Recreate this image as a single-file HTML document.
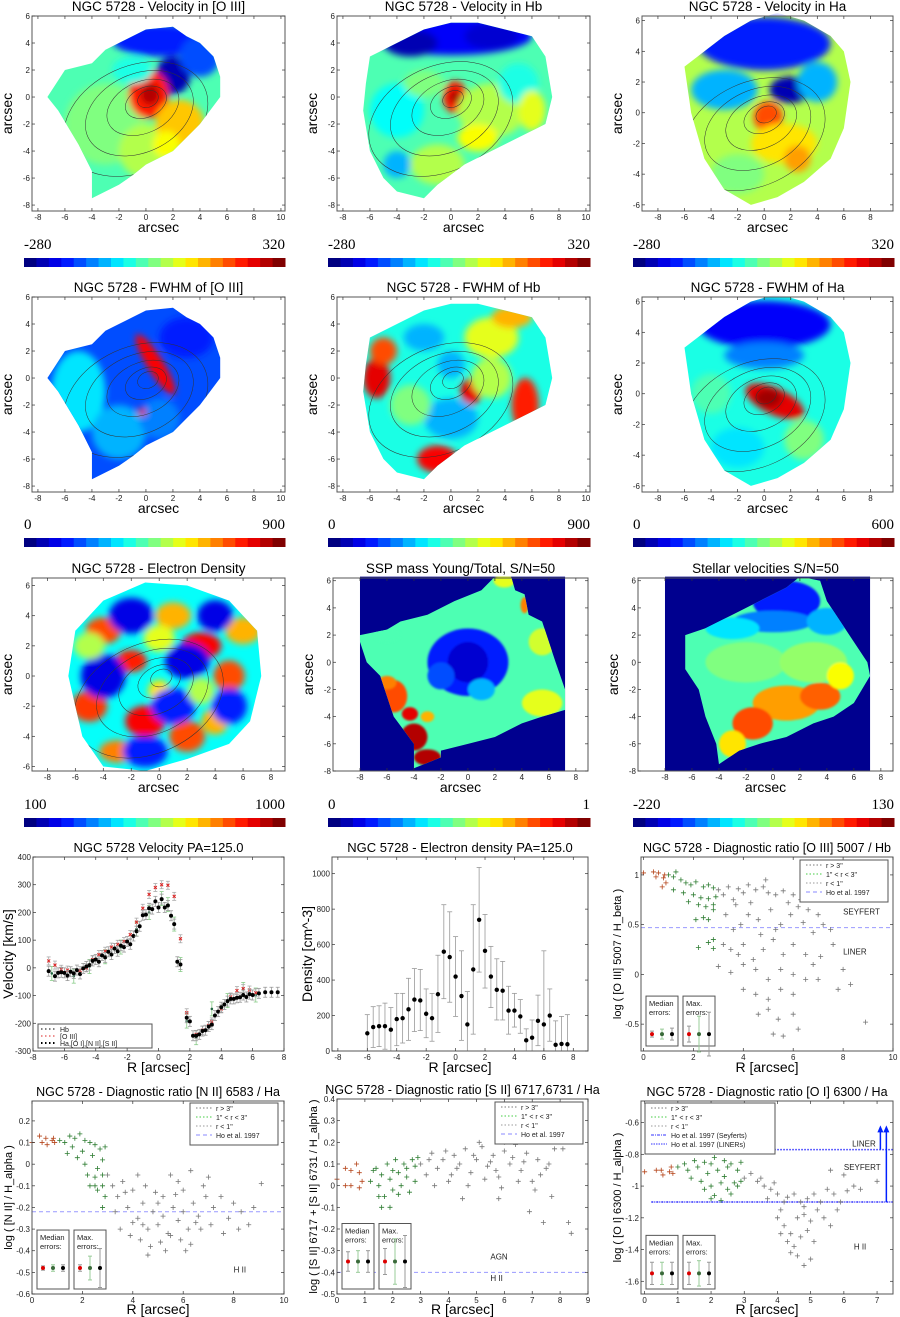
<!DOCTYPE html>
<html><head><meta charset="utf-8">
<style>
html,body{margin:0;padding:0;background:#fff;overflow:hidden;}
svg{display:block;font-family:"Liberation Sans",sans-serif;}
</style></head>
<body>
<svg id="fig" width="900" height="1317" viewBox="0 0 900 1317" xmlns="http://www.w3.org/2000/svg">
<defs>
<filter id="bl" x="-20%" y="-20%" width="140%" height="140%"><feGaussianBlur stdDeviation="3.5"/></filter>
<filter id="bl1" x="-20%" y="-20%" width="140%" height="140%"><feGaussianBlur stdDeviation="1"/></filter>
</defs>
</svg>
<script>
// ---------- chart data ----------
const velBlackR=[-7,-6.6,-6.4,-6.2,-6,-5.8,-5.6,-5.4,-5.2,-5,-4.8,-4.6,-4.4,-4.2,-4,-3.8,-3.6,-3.4,-3.2,-3,-2.8,-2.6,-2.4,-2.2,-2,-1.8,-1.6,-1.4,-1.2,-1,-0.8,-0.6,-0.4,-0.2,0,0.2,0.4,0.6,0.8,1,1.2,1.4,1.8,2,2.2,2.4,2.6,2.8,3,3.2,3.4,3.6,3.8,4,4.2,4.4,4.6,4.8,5,5.2,5.4,5.6,5.8,6,6.4,6.8,7.2,7.6];
const velBlackV=[-12,-30,-18,-16,-18,-28,-14,-20,-8,-22,-2,5,10,25,30,22,45,38,58,48,70,60,80,75,95,85,115,132,150,190,192,215,212,240,218,248,218,225,188,158,22,12,-180,-193,-245,-245,-240,-228,-225,-212,-205,-172,-158,-142,-132,-120,-112,-112,-108,-106,-98,-105,-95,-98,-92,-88,-88,-88];
const velRedR=[-7,-6.6,-6.2,-5.8,-5,-4.6,-4.2,-3.8,-3.4,-3,-2.6,-2.2,-1.8,-1.4,-1,-0.6,-0.2,0.2,0.6,1,1.4,1.8,2.4,2.8,3.2,3.4,4,4.6,5,5.4,5.8,6.2];
const velRedV=[25,10,-5,-8,-10,0,30,48,60,75,85,95,120,165,215,265,290,300,298,258,105,-162,-240,-225,-208,-195,-148,-105,-82,-75,-80,-90];
const velHbR=[-6.8,-5.4,-4.4,-3.4,-2.4,-1.4,-0.6,0.2,0.6,1,1.4,1.8,2.4,3.4,4.4,5.4,6.2];
const velHbV=[-20,-30,5,40,75,140,200,250,228,158,12,-192,-252,-148,-118,-78,-98];
const denR=[-6,-5.6,-5.2,-4.8,-4.4,-4,-3.6,-3.2,-2.8,-2.4,-2,-1.6,-1.2,-0.8,-0.4,0,0.4,0.8,1.2,1.6,2,2.4,2.8,3.2,3.6,4,4.4,4.8,5.2,5.6,6,6.4,6.8,7.2,7.6];
const denV=[100,135,140,140,120,180,185,235,290,285,210,185,320,560,530,420,310,150,460,740,565,420,345,340,228,228,195,60,75,170,150,200,35,40,38];
const denHi=[205,250,255,270,245,325,325,410,465,460,350,325,540,825,785,645,565,335,825,1035,770,590,520,505,365,325,290,125,175,315,565,350,170,195,205];
const denLo=[0,20,25,10,0,30,45,60,110,115,75,55,105,295,275,195,60,0,95,445,355,245,175,175,95,135,100,0,0,30,0,55,0,0,0];

const o3Gray=[[3,0.85],[3.2,0.8],[3.4,0.88],[3.6,0.75],[3.8,0.86],[4,0.82],[4.2,0.9],[4.5,0.85],[4.8,0.88],[5,0.82],[5.3,0.8],[5.6,0.84],[6,0.8],[6.3,0.75],[6.6,0.65],[7,0.6],[3.3,0.6],[3.6,0.45],[3.9,0.5],[4.2,0.6],[4.6,0.55],[5.1,0.65],[5.5,0.5],[5.9,0.6],[6.4,0.52],[6.8,0.42],[7.2,0.5],[7.5,0.45],[3.2,0.3],[3.5,0.25],[4,0.3],[4.4,0.15],[4.8,0.25],[5.2,0.35],[5.6,0.2],[6,0.3],[6.5,0.2],[7.1,0.18],[7.6,0.3],[3,0.08],[3.5,0.02],[4,0.1],[4.5,0.05],[5,-0.05],[5.5,0.05],[6,0],[6.5,-0.05],[7,-0.05],[8,0.05],[8.3,-0.1],[4,-0.15],[4.5,-0.2],[5,-0.25],[5.5,-0.15],[6,-0.2],[4.6,-0.4],[5,-0.35],[5.4,-0.45],[6,-0.4],[5.2,-0.6],[5.6,-0.62],[6.2,-0.55],[8.9,-0.48],[7.8,-0.15],[4.9,0.95],[6.6,0.9],[3.7,0.7],[4.3,0.72],[5.8,0.72],[6.2,0.68],[4.7,0.4],[5.3,0.45],[3.8,0.2],[6.8,0.1]];
const o3Green=[[1.2,0.98],[1.5,0.95],[1.7,0.92],[1.9,0.9],[2.1,0.93],[2.4,0.88],[2.6,0.9],[2.8,0.87],[1.2,0.85],[1.6,0.82],[2,0.8],[2.3,0.77],[2.6,0.76],[2.9,0.78],[1.8,0.73],[2.2,0.7],[2.5,0.68],[2.8,0.65],[2.1,0.55],[2.4,0.57],[2.6,0.55],[2.8,0.7],[2.6,0.32],[2.8,0.35],[2.2,0.27],[2.8,0.26],[1.3,1.03],[1.0,1.0]];
const o3Red=[[0,1.02],[0.4,1.03],[0.5,0.98],[0.6,1.02],[0.8,0.97],[0.9,0.92],[0.75,0.88],[0.85,1.0]];

const n2Gray=[[3,-0.05],[3.2,-0.1],[3.4,-0.15],[3.6,-0.08],[3.8,-0.2],[4,-0.12],[4.2,-0.25],[4.4,-0.18],[4.6,-0.3],[4.8,-0.22],[5,-0.28],[5.2,-0.15],[5.4,-0.32],[5.6,-0.2],[5.8,-0.26],[6,-0.12],[6.2,-0.3],[6.4,-0.18],[6.6,-0.24],[6.8,-0.1],[7,-0.06],[7.2,-0.2],[7.5,-0.15],[7.8,-0.25],[8,-0.18],[8.3,-0.22],[8.6,-0.28],[9.1,-0.09],[8.8,-0.2],[3.5,-0.3],[3.9,-0.33],[4.3,-0.35],[4.7,-0.38],[5.1,-0.36],[5.5,-0.33],[5.9,-0.35],[6.3,-0.37],[6.7,-0.3],[7.1,-0.28],[4.6,-0.42],[5.3,-0.4],[6.1,-0.4],[4.2,-0.05],[5.5,-0.05],[6.3,-0.03],[5.8,-0.08],[4.5,-0.1],[3.3,-0.22],[7.6,-0.32],[8.2,-0.3],[6.9,-0.15],[5,-0.18],[4,-0.27],[4.9,-0.13],[5.7,-0.14],[6.5,-0.27],[3.7,-0.13],[4.4,-0.28],[5.2,-0.24],[6,-0.22]];
const n2Green=[[1.1,0.11],[1.3,0.1],[1.5,0.13],[1.7,0.12],[1.9,0.14],[2.1,0.11],[2.3,0.1],[2.5,0.09],[2.7,0.07],[2.9,0.08],[1.4,0.05],[1.8,0.03],[2.1,0],[2.4,0.04],[2.6,-0.02],[2.8,0.02],[2.2,-0.05],[2.5,-0.06],[2.8,-0.05],[2.3,-0.1],[2.6,-0.12],[2.8,-0.1],[2.9,-0.15],[2.8,-0.2],[2.5,-0.1],[1.6,0.08],[2,0.06]];
const n2Red=[[0.3,0.13],[0.4,0.1],[0.55,0.12],[0.6,0.09],[0.8,0.11],[0.9,0.1],[0.85,0.12],[0,0.1]];

const s2Gray=[[3,0.1],[3.2,0.05],[3.4,0.15],[3.6,0.08],[3.8,0.12],[4,0.02],[4.2,0.14],[4.4,0.1],[4.6,0.17],[4.8,0.06],[5,0.12],[5.2,0.18],[5.4,0.09],[5.6,0.14],[5.8,0.04],[6,0.16],[6.2,0.1],[6.4,0.19],[6.6,0.07],[6.8,0.15],[7,0.02],[7.2,0.12],[7.5,0.08],[7.8,0.17],[3.5,0],[4.1,0.05],[4.7,0],[5.3,0.03],[5.9,-0.01],[6.5,0.02],[7.1,-0.02],[7.7,-0.05],[6.9,-0.12],[7.4,-0.17],[8.3,-0.17],[8.4,-0.22],[4.5,-0.06],[5.8,-0.06],[6,0.2],[6.9,0.21],[3.9,0.16],[5.1,0.2],[4.3,0.08],[5.5,0.11],[6.3,0.13],[7.3,0.05],[3.3,0.12],[4.9,0.14],[5.7,0.07],[6.7,0.11],[7.6,0.1],[8.1,0.17]];
const s2Green=[[1.2,0.02],[1.4,0.08],[1.5,0],[1.6,0.05],[1.8,0.1],[1.9,0.03],[2,-0.02],[2.1,0.12],[2.2,0.06],[2.3,0],[2.4,0.1],[2.5,0.04],[2.6,-0.03],[2.7,0.12],[2.8,0.02],[2.9,0.13],[1.7,-0.05],[2.2,-0.04],[1.6,-0.1],[1.9,-0.1],[2.5,0.08],[2.8,0.09],[1.3,0.07],[2,0.07],[1.5,-0.05]];
const s2Red=[[0.3,0.08],[0.5,0.07],[0.7,0.1],[0.8,0.06],[0.9,0.02],[0.3,0],[0.5,0],[0.8,-0.01],[0,0.03]];

const o1Gray=[[3,-0.95],[3.2,-0.92],[3.4,-0.97],[3.6,-1],[3.8,-1.02],[3.9,-0.98],[4,-1.05],[4.1,-1.15],[4.2,-1.1],[4.3,-1.07],[4.5,-1.05],[4.7,-1.1],[4.9,-1.08],[5.1,-1.05],[5.3,-1.1],[5.5,-1.02],[5.7,-1.05],[5.9,-1.1],[6.1,-1.03],[6.3,-1],[6.5,-1.02],[7,-0.97],[5.6,-0.9],[6,-0.93],[4,-1.2],[4.2,-1.25],[4.4,-1.3],[4.6,-1.2],[4.8,-1.18],[5,-1.22],[5.2,-1.15],[5.4,-1.2],[5.6,-1.25],[5.8,-1.15],[4.1,-1.3],[4.3,-1.35],[4.5,-1.38],[4.7,-1.32],[4.9,-1.28],[4.4,-1.42],[4.6,-1.44],[4.8,-1.5],[5,-1.46],[5.1,-1.35],[3.5,-0.95],[3.7,-1.08],[4.8,-1.13]];
const o1Green=[[1,-0.88],[1.2,-0.86],[1.3,-0.9],[1.5,-0.84],[1.6,-0.88],[1.8,-0.85],[1.9,-0.92],[2,-0.86],[2.1,-0.82],[2.2,-0.9],[2.4,-0.84],[2.5,-0.88],[2.6,-0.86],[2.8,-0.9],[2.9,-0.85],[1.4,-0.95],[1.7,-0.97],[2,-1],[2.3,-0.98],[2.5,-1.02],[2.7,-0.98],[1.8,-1.02],[2.1,-1.06],[2.3,-1.09],[2.6,-1.05],[2.8,-1],[2,-1.08],[2.4,-0.94],[2.9,-0.97]];
const o1Red=[[0,-0.91],[0.35,-0.9],[0.5,-0.9],[0.55,-0.93],[0.75,-0.91],[0.8,-0.88],[0.85,-0.92]];

// ---------- helpers ----------
const NS='http://www.w3.org/2000/svg';
const svg=document.getElementById('fig');
function el(tag,attrs,parent,txt){const e=document.createElementNS(NS,tag);for(const k in attrs)e.setAttribute(k,attrs[k]);if(txt!==undefined)e.textContent=txt;(parent||svg).appendChild(e);return e;}
function jet(t){const c=v=>Math.round(255*Math.max(0,Math.min(1,v)));return `rgb(${c(1.5-Math.abs(4*t-3))},${c(1.5-Math.abs(4*t-2))},${c(1.5-Math.abs(4*t-1))})`;}
function axes(p){const [x0,y0,x1,y1,xa,xb,ya,yb]=p;return {X:v=>x0+(v-xa)/(xb-xa)*(x1-x0),Y:v=>y1-(v-ya)/(yb-ya)*(y1-y0),p};}
function frame(a,xt,yt,g,fs){const [x0,y0,x1,y1]=a.p;fs=fs||8;
 el('rect',{x:x0,y:y0,width:x1-x0,height:y1-y0,fill:'none',stroke:'#555','stroke-width':1},g);
 xt.forEach(v=>{const x=a.X(v);el('line',{x1:x,y1:y1,x2:x,y2:y1-3,stroke:'#333','stroke-width':0.7},g);el('line',{x1:x,y1:y0,x2:x,y2:y0+3,stroke:'#333','stroke-width':0.7},g);el('text',{x:x,y:y1+fs+1,'font-size':fs,'text-anchor':'middle',fill:'#222'},g,String(v));});
 yt.forEach(v=>{const y=a.Y(v);el('line',{x1:x0,y1:y,x2:x0+3,y2:y,stroke:'#333','stroke-width':0.7},g);el('line',{x1:x1,y1:y,x2:x1-3,y2:y,stroke:'#333','stroke-width':0.7},g);el('text',{x:x0-2,y:y+3,'font-size':fs,'text-anchor':'end',fill:'#222'},g,String(v));});}
function labels(g,a,title,xl,yl,tfs,xoff){const [x0,y0,x1,y1]=a.p;
 const t=el('text',{x:(x0+x1)/2,y:y0-5,'font-size':tfs||13.5,'text-anchor':'middle',fill:'#000'},g,title);
 const xe=el('text',{x:(x0+x1)/2,y:y1+(xoff||21),'font-size':14,'text-anchor':'middle',fill:'#000'},g,xl);
 const ye=el('text',{x:0,y:0,'font-size':yl.length>20?11:14,'text-anchor':'middle',fill:'#000',transform:`translate(${x0-20},${(y0+y1)/2}) rotate(-90)`},g,yl);}
function range(a,b,s){const r=[];for(let v=a;v<=b+1e-9;v+=s)r.push(Math.round(v*10)/10);return r;}
let cid=0;
function map(name,p,title,xt,yt,poly,bg,blobs,opts){opts=opts||{};
 const g=el('g',{});
 const a=axes(p);const id='c'+(cid++);
 const sx=(p[2]-p[0])/(p[5]-p[4]);const k=opts.scale||1;
 const cp=el('clipPath',{id:id},svg.querySelector('defs'));
 el('polygon',{points:poly.map(q=>a.X(q[0])+','+a.Y(q[1])).join(' ')},cp);
 if(opts.navy){el('rect',{x:a.X(-8),y:a.Y(6.3),width:a.X(7.2)-a.X(-8),height:a.Y(-8)-a.Y(6.3),fill:'#00008f'},g);}
 const inner=el('g',{'clip-path':`url(#${id})`},g);
 el('rect',{x:p[0],y:p[1],width:p[2]-p[0],height:p[3]-p[1],fill:jet(bg)},inner);
 const bg2=el('g',{filter:opts.navy?'url(#bl1)':'url(#bl)'},inner);
 blobs.forEach(b=>{const cx=a.X(b[0]),cy=a.Y(b[1]);el('ellipse',{cx:cx,cy:cy,rx:b[2]*sx*k,ry:b[3]*sx*k,fill:jet(b[4]),transform:`rotate(${b[5]||0} ${cx} ${cy})`},bg2);});
 if(opts.contour){const cx=a.X(0.3),cy=a.Y(0.1);
  [[0.8,0.6],[1.6,1.1],[2.8,1.9],[4.2,2.9],[5.6,3.9]].forEach(r=>el('ellipse',{cx:cx-r[0]*sx*0.3,cy:cy+r[0]*sx*0.2,rx:r[0]*sx,ry:r[1]*sx,fill:'none',stroke:'#333','stroke-width':0.5,transform:`rotate(${opts.contour} ${cx} ${cy})`},inner));}
 frame(a,xt,yt,g);labels(g,a,title,'arcsec','arcsec',13.5,21);return a;}
function colorbar(name,x0,x1,y,lo,hi){const g=el('g',{});
 const n=21,w=(x1-x0)/n;for(let i=0;i<n;i++)el('rect',{x:x0+i*w,y:y,width:w+0.5,height:9,fill:jet(i/(n-1))},g);
 el('text',{x:x0,y:y-9,'font-size':15,'font-family':'Liberation Serif, serif',fill:'#000'},g,lo);
 el('text',{x:x1,y:y-9,'font-size':15,'font-family':'Liberation Serif, serif','text-anchor':'end',fill:'#000'},g,hi);}
function plus(g,x,y,c){el('path',{d:`M${x-2.5},${y}h5M${x},${y-2.5}v5`,stroke:c,'stroke-width':0.8},g);}
function scatter(a,g,pts,c){pts.forEach(q=>plus(g,a.X(q[0]),a.Y(q[1]),c));}
function legend(g,x,y,w,items){const h=items.length*9+6;el('rect',{x:x,y:y,width:w,height:h,fill:'#fff',stroke:'#555','stroke-width':1},g);
 items.forEach((it,i)=>{const yy=y+8+i*9;el('line',{x1:x+6,y1:yy-3,x2:x+22,y2:yy-3,stroke:it[1],'stroke-width':1,'stroke-dasharray':it[2]||'1.5,2'},g);el('text',{x:x+26,y:yy,'font-size':7,fill:'#222'},g,it[0]);});}
function errBoxes(g,a,x,ybot,ybar,med,mx){
 [[x,'Median','errors:',med],[x+37,'Max.','errors:',mx]].forEach(b=>{const bx=b[0],top=a.Y(ybar)-38;
  el('rect',{x:bx,y:top,width:32,height:ybot-top,fill:'#fff',stroke:'#555','stroke-width':1},g);
  el('text',{x:bx+3,y:top+10,'font-size':7.5,fill:'#222'},g,b[1]);el('text',{x:bx+3,y:top+19,'font-size':7.5,fill:'#222'},g,b[2]);
  const cols=['#d00','#3a6a3a','#000'],bars=['#999','#9c9','#999'];
  b[3].forEach((e,i)=>{const cx=bx+6+i*10;el('line',{x1:cx,y1:a.Y(ybar-e),x2:cx,y2:a.Y(ybar+e),stroke:bars[i],'stroke-width':1},g);
   el('line',{x1:cx-2,y1:a.Y(ybar-e),x2:cx+2,y2:a.Y(ybar-e),stroke:bars[i]},g);el('line',{x1:cx-2,y1:a.Y(ybar+e),x2:cx+2,y2:a.Y(ybar+e),stroke:bars[i]},g);
   el('circle',{cx:cx,cy:a.Y(ybar),r:2,fill:cols[i]},g);});});}

// ---------- maps ----------
const poly1=[[-7.3,0],[-6,2],[-4,2.5],[-3,3.5],[-2,4],[-1,4.5],[0,5],[2,5.2],[3,4.5],[4,4],[5,3],[5.5,1.5],[5.5,0],[4,-2],[2,-4],[0,-5],[-1,-5.8],[-2,-6.5],[-4,-7.5],[-4,-5.5],[-5,-3.5],[-6.5,-1]];
const poly2=[[-6,3],[-4,4],[-2,5],[0,5.5],[2,5.5],[4,5],[6,4.5],[7,3],[7.5,0],[7,-2],[5,-3],[3,-4],[1,-5],[-1,-6.5],[-2,-7.5],[-4,-7],[-5,-6],[-6,-4],[-6.5,-1],[-6.3,1]];
const poly3=[[-6,3],[-3,5],[-1,6],[1,6.5],[3,6],[5,5],[6,4],[6.5,2],[6,-1],[5,-3],[3,-4.5],[1,-5.5],[-1,-6],[-3,-5],[-4.5,-3],[-5.5,0]];
const poly4=[[-6,3],[-4,5],[-1,6.2],[2,6],[5,5],[7,3],[7.3,0],[6.5,-3],[5,-4.5],[2,-5.5],[-1,-6.3],[-4,-6],[-5.5,-4],[-6.5,0]];
const poly5=[[-8,2],[-6,2.4],[-5,3],[-3,3.5],[-1,4.5],[1,5.3],[2,6.3],[3.2,6.3],[3.5,5.3],[4.2,5],[4.5,3.5],[5.5,3],[6,1.5],[6.5,0],[7.2,-2],[7.2,-3.5],[5.5,-4],[4,-4.5],[2,-5.5],[0,-6],[-2,-6.5],[-2,-7],[-4,-7.8],[-4,-6],[-5.5,-4],[-6.5,-1],[-7.5,0],[-8,1.5]];
const poly6=[[-6.5,2],[-5,2.5],[-3,3.5],[-1,4.5],[1,5.5],[2,6.3],[3.5,6],[4,4.5],[5,3],[6,1.5],[7,0],[7.2,-1],[6,-3],[4.5,-4],[3,-4.5],[1,-5.5],[-1,-6],[-2.5,-6.5],[-4,-7.5],[-4.2,-6],[-5,-4],[-5.5,-2],[-6.5,-0.5]];
const xtA=range(-8,10,2),ytA=range(-8,6,2),xtB=range(-8,8,2),ytB=range(-6,6,2);
const rA=[-8.44,10.3,-8.44,6],rB=[-9.2,9.7,-6.4,6.3],rC=[-9.1,9.0,-6.3,6.5],rD=[-10,8.9,-8,6.2];

map('map-velocity-oiii',[32,16,285,211,...rA],'NGC 5728 - Velocity in [O III]',xtA,ytA,poly1,0.45,
 [[-3,-2,3,3,0.5],[0,-4,2,2,0.55],[1,4.2,3.5,1.2,0.15],[2,1.6,1.3,1.4,0.05],[4,3,1.5,1.5,0.2],[0.2,0.2,1.5,1.8,0.85],[0.3,0.2,0.7,0.8,0.95],[2.5,-2,1.8,1.8,0.68],[1.5,-3.5,1,1,0.62],[-1,2,1.5,1,0.4]],{contour:-25});
map('map-velocity-hb',[337,16,590,211,...rA],'NGC 5728 - Velocity in Hb',xtA,ytA,poly2,0.45,
 [[0,4.5,6,1.4,0.12],[-3,4,2,1,0.05],[3,4.5,2,1,0.08],[0.3,0,0.9,1.2,0.85],[0.3,0,0.4,0.5,0.97],[-4,-1,2,2,0.38],[3,-1,2.5,2,0.55],[5,1,1.5,1.5,0.4],[-1,-5,2,1.5,0.55],[2,-3,1.5,1,0.62],[-4,-5,1,1,0.3],[6,-1,1,1.5,0.6],[-2,1,1.5,1,0.5]],{contour:-25});
map('map-velocity-ha',[642,16,893,211,...rB],'NGC 5728 - Velocity in Ha',xtB,ytB,poly3,0.55,
 [[0,4.5,5,2,0.15],[2,1.5,1.6,1,0.05],[-3,1.5,2.5,1.5,0.3],[4,2,1.5,1.5,0.3],[0.3,-0.3,1.1,1.2,0.8],[1.5,-2,2.5,1.5,0.65],[-2,-4,2,1.5,0.5],[2.5,-3,1,1,0.72]],{contour:-25});
colorbar('colorbar-velocity-oiii',24,285,258,'-280','320');
colorbar('colorbar-velocity-hb',328,590,258,'-280','320');
colorbar('colorbar-velocity-ha',633,894,258,'-280','320');

map('map-fwhm-oiii',[32,297,285,492,...rA],'NGC 5728 - FWHM of [O III]',xtA,ytA,poly1,0.2,
 [[-5,-1,2,3,0.35],[-2,-4,2,2,0.3],[0.7,1,2.6,0.6,0.88,58],[3,3,2,1.5,0.15],[1,-3,1.5,1.5,0.25],[-0.3,-2.5,0.3,0.3,0.9]],{contour:-25});
map('map-fwhm-hb',[337,297,590,492,...rA],'NGC 5728 - FWHM of Hb',xtA,ytA,poly2,0.4,
 [[-5.5,0,1,1.5,0.9],[-5,2,1,1,0.8],[-1,-6,1.5,1,0.88],[5.5,-2,1,2,0.85],[1.5,-1,0.8,1,0.9],[3,3,2,1.5,0.6],[-2,3,1.5,1,0.3],[0,-3,2,1.5,0.3],[3,0,1.5,1.5,0.55],[-3,-2,1.5,1.5,0.5],[0,1,1,1,0.3],[4.5,4.5,1.5,0.8,0.7]],{contour:-25});
map('map-fwhm-ha',[642,297,893,492,...rB],'NGC 5728 - FWHM of Ha',xtB,ytB,poly3,0.4,
 [[0,4.5,5,1.8,0.12],[0,2.5,3,1,0.25],[0.8,-0.5,2.4,1,0.9,25],[0.3,-0.3,1,0.7,0.97],[-2,-3.5,2,1.5,0.35],[3,-3,1.5,1.5,0.5],[-4,0,1.5,1.5,0.45]],{contour:-25});
colorbar('colorbar-fwhm-oiii',24,285,538,'0','900');
colorbar('colorbar-fwhm-hb',328,590,538,'0','900');
colorbar('colorbar-fwhm-ha',633,894,538,'0','600');

map('map-electron-density',[32,578,285,771,...rC],'NGC 5728 -  Electron Density',xtB,ytB,poly4,0.38,
 [[-4,3,0.8,0.6,0.8],[-2,1,0.7,0.5,0.85],[1,4,0.8,0.6,0.7],[3,2,0.9,0.6,0.88],[5,0,0.7,0.7,0.8],[-5,-2,0.8,0.7,0.82],[-1,-3,0.9,0.7,0.88],[2,-4,0.8,0.7,0.8],[4,-3,0.6,0.6,0.7],[0,-1,0.5,0.5,0.65],[-3,-5,0.8,0.5,0.75],[6,3,0.8,0.6,0.7],[-2,4,1,0.8,0.1],[2,1,1,0.8,0.1],[-4,0,1,1,0.1],[1,-2,1,0.8,0.15],[4,4,0.8,0.7,0.1],[-1,-5,1,0.7,0.15],[5,-2,0.8,0.8,0.15],[-5,2,0.7,0.6,0.55],[3,-1,0.6,0.6,0.55],[0,2.5,0.7,0.6,0.6]],{contour:-25,scale:1.6});
map('map-ssp-mass',[333,578,588,771,...rD],'SSP mass Young/Total, S/N=50',xtB,ytA,poly5,0.45,
 [[0,0,3,2.5,0.15],[0,0,1.5,1.5,0.08],[-2,-1,1,1,0.2],[1,-2,1,0.8,0.3],[-5.5,-2.5,1,1.2,0.8],[-4.3,-3.8,0.6,0.5,0.9],[-4,-5.5,1,1,0.95],[-3,-7,1,0.6,0.95],[-6,-1.5,0.7,0.5,0.75],[-3,-4,0.5,0.4,0.7],[5.5,-3,1.5,1,0.6],[2.7,6,0.8,0.5,0.6],[4.2,4.2,0.3,0.6,0.75],[5.5,1.5,1,1,0.58],[-6,2,1,0.5,0.45]],{navy:1});
map('map-stellar-velocity',[638,578,893,771,...rD],'Stellar velocities S/N=50',xtB,ytA,poly6,0.45,
 [[1,4.5,2.5,1.5,0.15],[0,3,3,0.8,0.25],[-3,2.5,2,0.8,0.35],[4,3,1.5,1,0.3],[-2,0,3,1.5,0.5],[3,0,2.5,1.5,0.52],[1,-3,2.5,1.3,0.72],[3.5,-2.5,1.5,1,0.78],[-1.5,-4.5,1.5,1.2,0.8],[-3,-6,1,1,0.65],[5,-1,1,1,0.62]],{navy:1});
colorbar('colorbar-electron-density',24,285,818,'100','1000');
colorbar('colorbar-ssp-mass',328,590,818,'0','1');
colorbar('colorbar-stellar-velocity',633,894,818,'-220','130');

// ---------- velocity profile ----------
(function(){const g=el('g',{});
 const a=axes([33,857,284,1051,-8,8,-300,400]);
 const eb=(x,y,e,c)=>{el('line',{x1:x,y1:y-e,x2:x,y2:y+e,stroke:c,'stroke-width':0.8},g);el('line',{x1:x-2,y1:y-e,x2:x+2,y2:y-e,stroke:c,'stroke-width':0.8},g);el('line',{x1:x-2,y1:y+e,x2:x+2,y2:y+e,stroke:c,'stroke-width':0.8},g);};
 velHbR.forEach((r,i)=>{const x=a.X(r),y=a.Y(velHbV[i]);eb(x,y,7,'#8c8');el('circle',{cx:x,cy:y,r:1.3,fill:'#264'},g);});
 velRedR.forEach((r,i)=>{const x=a.X(r),y=a.Y(velRedV[i]);eb(x,y,4,'#aaa');el('path',{d:`M${x-1.5},${y-1.5}l3,3M${x+1.5},${y-1.5}l-3,3`,stroke:'#d22','stroke-width':1},g);});
 velBlackR.forEach((r,i)=>{const x=a.X(r),y=a.Y(velBlackV[i]);eb(x,y,5,'#999');el('circle',{cx:x,cy:y,r:2,fill:'#000'},g);});
 frame(a,range(-8,8,2),range(-300,400,100),g);labels(g,a,'NGC 5728  Velocity PA=125.0','R [arcsec]','Velocity [km/s]',13,21);
 const lg=el('g',{},g);
 el('rect',{x:38,y:1024,width:114,height:24,fill:'#fff',stroke:'#555'},lg);
 [['Hb','#000'],['[O III]','#d22'],['Ha,[O I],[N II],[S II]','#000']].forEach((t,i)=>{const y=1031+i*7;el('line',{x1:41,y1:y-2,x2:57,y2:y-2,stroke:t[1],'stroke-width':i==2?2:1,'stroke-dasharray':'1.5,2.5'},lg);el('text',{x:60,y:y+1,'font-size':7,fill:'#222'},lg,t[0]);});
})();

// ---------- density profile ----------
(function(){const g=el('g',{});
 const a=axes([332,857,588,1051,-8.4,9,0,1094]);
 denR.forEach((r,i)=>{const x=a.X(r);el('line',{x1:x,y1:a.Y(denLo[i]),x2:x,y2:a.Y(denHi[i]),stroke:'#999','stroke-width':0.8},g);
  [denLo[i],denHi[i]].forEach(v=>el('line',{x1:x-2.5,y1:a.Y(v),x2:x+2.5,y2:a.Y(v),stroke:'#999','stroke-width':0.8},g));
  el('circle',{cx:x,cy:a.Y(denV[i]),r:2.2,fill:'#000'},g);});
 frame(a,range(-8,8,2),range(0,1000,200),g);labels(g,a,'NGC 5728 - Electron density PA=125.0','R [arcsec]','Density [cm^-3]',13,21);
})();

// ---------- diagnostic plots ----------
function diag(name,p,title,xl,yl,xt,yt,gray,green,red,opt){const g=el('g',{});
 const a=axes(p);
 (opt.lines||[]).forEach(L=>el('line',{x1:a.X(L[1]),y1:a.Y(L[0]),x2:p[2],y2:a.Y(L[0]),stroke:L[2],'stroke-width':L[3]||1,'stroke-dasharray':L[4]||'4,3'},g));
 scatter(a,g,gray,'#777');scatter(a,g,green,'#2e7d32');scatter(a,g,red,'#b5451b');
 frame(a,xt,yt,g);labels(g,a,title,xl,yl,12.5,opt.xoff||21);
 (opt.texts||[]).forEach(t=>el('text',{x:a.X(t[1]),y:a.Y(t[2]),'font-size':8,fill:'#222'},g,t[0]));
 const lg=el('g',{},g);
 legend(lg,opt.leg[0],opt.leg[1],opt.leg[2],opt.legItems);
 errBoxes(g,a,p[0]+(opt.ebx||5),p[3]-5,opt.eby,opt.med,opt.mx);return a;}
const legStd=[['r > 3"','#777'],['1" < r < 3"','#4c4'],['r < 1"','#999'],['Ho et al. 1997','#88f','4,3']];
diag('oiii-hb-diagnostic',[641,857,893,1051,-0.1,10,-0.77,1.18],'NGC 5728 - Diagnostic ratio [O III] 5007 / Hb','R [arcsec]','log ( [O III] 5007 / H_beta )',range(0,10,2),[-0.5,0.0,0.5,1.0],o3Gray,o3Green,o3Red,
 {lines:[[0.47,-0.1,'#99f',1]],texts:[['SEYFERT',8,0.6],['LINER',8,0.2]],leg:[800,860,88],legItems:legStd,eby:-0.6,med:[0.03,0.05,0.06],mx:[0.08,0.18,0.22]});
diag('nii-ha-diagnostic',[32,1101,284,1294,0,10,-0.6,0.292],'NGC 5728 - Diagnostic ratio [N II] 6583 / Ha','R [arcsec]','log ( [N II] / H_alpha )',range(0,10,2),range(-0.6,0.2,0.1).map(Number),n2Gray,n2Green,n2Red,
 {xoff:20,lines:[[-0.22,0,'#99f',1]],texts:[['AGN',8,0.12],['H II',8,-0.5]],leg:[190,1103,88],legItems:legStd,eby:-0.48,med:[0.01,0.015,0.015],mx:[0.015,0.055,0.09]});
diag('sii-ha-diagnostic',[337,1099,588,1294,0,9,-0.5,0.4],'NGC 5728 - Diagnostic ratio [S II] 6717,6731 / Ha','R [arcsec]','log ( [S II] 6717 + [S II] 6731 / H_alpha )',range(0,9,1),range(-0.5,0.4,0.1).map(Number),s2Gray,s2Green,s2Red,
 {xoff:20,lines:[[-0.4,0,'#99f',1]],texts:[['AGN',5.5,-0.34],['H II',5.5,-0.44]],leg:[495,1102,88],legItems:legStd,eby:-0.35,med:[0.045,0.05,0.05],mx:[0.06,0.105,0.12]});
diag('oi-ha-diagnostic',[641,1101,893,1294,-0.11,7.48,-1.68,-0.464],'NGC 5728 - Diagnostic ratio [O I] 6300 / Ha','R [arcsec]','log ( [O I] 6300 / H_alpha )',range(0,7,1),[-1.6,-1.4,-1.2,-1.0,-0.8,-0.6],o1Gray,o1Green,o1Red,
 {xoff:20,lines:[[-0.77,0.2,'#33f',1.5,'1.5,1.5'],[-1.1,0.2,'#33f',1.5,'2,1,1,1']],texts:[['LINER',6.25,-0.75],['SEYFERT',6,-0.9],['H II',6.3,-1.4]],leg:[645,1103,130],legItems:[['r > 3"','#777'],['1" < r < 3"','#4c4'],['r < 1"','#999'],['Ho et al. 1997 (Seyferts)','#33f','3,1,1,1'],['Ho et al. 1997 (LINERs)','#33f','1.5,1']],eby:-1.55,med:[0.07,0.07,0.07],mx:[0.07,0.08,0.07]});
(function(){const a=axes([641,1101,893,1294,-0.11,7.48,-1.68,-0.464]);const g=el('g',{});
 [[7.1,-0.77,-0.63],[7.28,-1.1,-0.63]].forEach(r=>{const x=a.X(r[0]);el('line',{x1:x,y1:a.Y(r[1]),x2:x,y2:a.Y(r[2])+4,stroke:'#0020ff','stroke-width':1.5},g);el('path',{d:`M${x-3},${a.Y(r[2])+5}L${x},${a.Y(r[2])-2}L${x+3},${a.Y(r[2])+5}Z`,fill:'#0020ff'},g);});})();
</script>
</body></html>
